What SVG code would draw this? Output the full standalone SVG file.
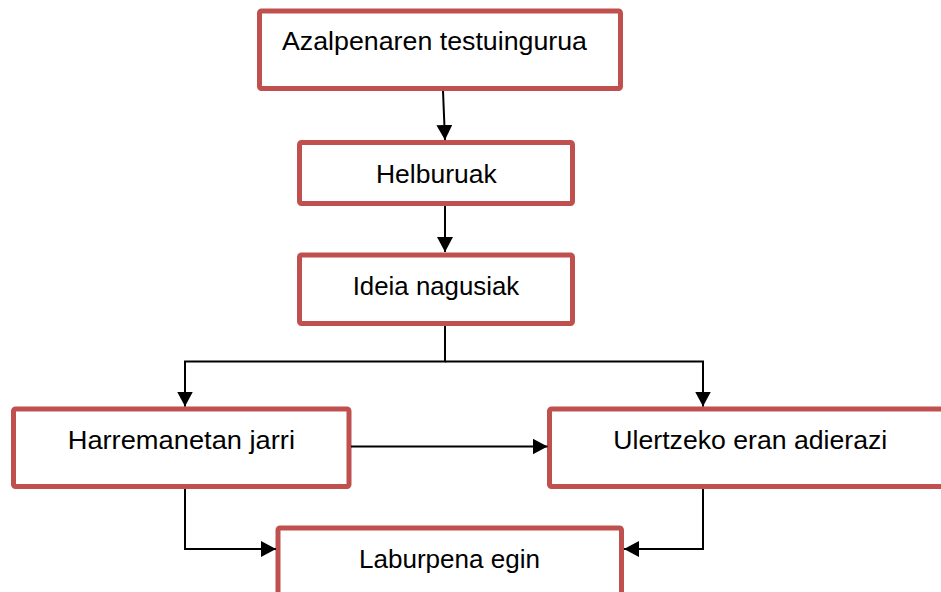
<svg xmlns="http://www.w3.org/2000/svg" width="941" height="592" viewBox="0 0 941 592">
<style>
.box{fill:#fff;stroke:#C0504D;stroke-width:5;stroke-linejoin:round}
.lbl{font-family:"Liberation Sans",Arial,sans-serif;font-size:26px;fill:#000}
.con{fill:none;stroke:#000;stroke-width:2}
</style>
<defs>
<marker id="ah" markerUnits="userSpaceOnUse" markerWidth="16" markerHeight="16" refX="15" refY="8" orient="auto">
<path d="M0,0 L15,8 L0,16 z" fill="#000"/>
</marker>
</defs>
<rect width="941" height="592" fill="#fff"/>
<g id="n1"><rect class="box" x="259.5" y="11" width="361" height="77.5" rx="2"/><text class="lbl" x="282" y="50" textLength="305" lengthAdjust="spacingAndGlyphs">Azalpenaren testuingurua</text></g>
<g id="n2"><rect class="box" x="299.5" y="142.5" width="273" height="61" rx="2"/><text class="lbl" x="376" y="182.7" textLength="120.7" lengthAdjust="spacingAndGlyphs">Helburuak</text></g>
<g id="n3"><rect class="box" x="299.5" y="255" width="273" height="68.5" rx="2"/><text class="lbl" x="352.7" y="295" textLength="166.6" lengthAdjust="spacingAndGlyphs">Ideia nagusiak</text></g>
<g id="n4"><rect class="box" x="13.5" y="409" width="335.5" height="77.5" rx="2"/><text class="lbl" x="67.7" y="449" textLength="227.3" lengthAdjust="spacingAndGlyphs">Harremanetan jarri</text></g>
<g id="n5"><rect class="box" x="549.5" y="409" width="400" height="77.5" rx="2"/><text class="lbl" x="613.3" y="449" textLength="274" lengthAdjust="spacingAndGlyphs">Ulertzeko eran adierazi</text></g>
<g id="n6"><rect class="box" x="278" y="528" width="343.5" height="80" rx="2"/><text class="lbl" x="359" y="567.7" textLength="181" lengthAdjust="spacingAndGlyphs">Laburpena egin</text></g>
<g id="connectors">
<path class="con" d="M443,91 L445,140" marker-end="url(#ah)"/>
<path class="con" d="M445,206 V252" marker-end="url(#ah)"/>
<path class="con" d="M445,326 V361.5 H185 V406.5" marker-end="url(#ah)"/>
<path class="con" d="M445,361.5 H703 V406.5" marker-end="url(#ah)"/>
<path class="con" d="M351,446.5 H547.5" marker-end="url(#ah)"/>
<path class="con" d="M185,489 V549 H276" marker-end="url(#ah)"/>
<path class="con" d="M703,489 V549 H624" marker-end="url(#ah)"/>
</g>
</svg>
